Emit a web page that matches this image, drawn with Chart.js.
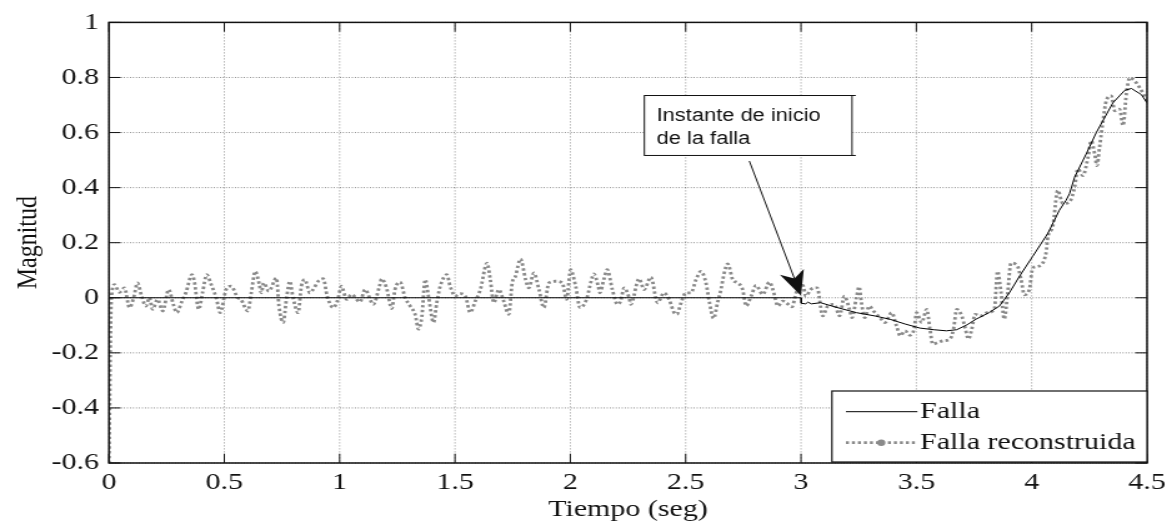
<!DOCTYPE html>
<html lang="es">
<head>
<meta charset="utf-8">
<title>Falla y falla reconstruida</title>
<script src="https://cdn.jsdelivr.net/npm/chart.js@4.4.1/dist/chart.umd.min.js"></script>
<style>
  html, body { margin: 0; padding: 0; background: #fff; overflow: hidden; }
  /* the figure is drawn at a narrower width and stretched horizontally */
  #lienzo { position: absolute; left: 0; top: 0; width: 938px; height: 529px;
            transform: scaleX(1.2495); transform-origin: 0 0; }
</style>
</head>
<body>
<div id="lienzo"><canvas id="grafico"></canvas></div>
<script>
// Señal de falla (referencia)
const tiempoFalla = [0, 3.000, 3.001, 3.020, 3.030, 3.045, 3.085, 3.150, 3.240, 3.320, 3.385, 3.450,
  3.515, 3.575, 3.630, 3.675, 3.720, 3.758, 3.815, 3.860, 3.903, 3.947, 4.004, 4.070, 4.120,
  4.149, 4.164, 4.186, 4.236, 4.280, 4.352, 4.403, 4.432, 4.475, 4.500];
const falla = [0, 0, -0.020, -0.022, -0.016, -0.022, -0.018, -0.034, -0.054, -0.066, -0.078, -0.095,
  -0.110, -0.116, -0.120, -0.116, -0.098, -0.078, -0.054, -0.030, 0.018, 0.078, 0.150, 0.234, 0.318,
  0.354, 0.378, 0.438, 0.522, 0.600, 0.708, 0.753, 0.760, 0.738, 0.708];

// Señal reconstruida
const tiempoRec = [0.000, 0.010, 0.024, 0.045, 0.067, 0.089, 0.107, 0.124, 0.140, 0.160, 0.175, 0.189,
  0.211, 0.233, 0.259, 0.279, 0.294, 0.315, 0.334, 0.360, 0.370, 0.389, 0.406, 0.424, 0.443, 0.465,
  0.482, 0.508, 0.530, 0.558, 0.572, 0.602, 0.617, 0.634, 0.652, 0.660, 0.671, 0.693, 0.726, 0.737,
  0.755, 0.770, 0.784, 0.798, 0.820, 0.834, 0.849, 0.871, 0.885, 0.907, 0.929, 0.946, 0.972, 0.990,
  1.008, 1.030, 1.052, 1.088, 1.110, 1.146, 1.172, 1.182, 1.203, 1.226, 1.240, 1.262, 1.284, 1.306,
  1.327, 1.342, 1.356, 1.371, 1.385, 1.407, 1.421, 1.436, 1.465, 1.479, 1.501, 1.523, 1.545, 1.566,
  1.588, 1.610, 1.639, 1.653, 1.668, 1.690, 1.711, 1.733, 1.748, 1.762, 1.784, 1.806, 1.820, 1.842,
  1.864, 1.885, 1.907, 1.936, 1.965, 1.984, 2.001, 2.023, 2.042, 2.070, 2.090, 2.102, 2.121, 2.128,
  2.145, 2.160, 2.182, 2.204, 2.218, 2.233, 2.255, 2.262, 2.298, 2.320, 2.349, 2.378, 2.406, 2.428,
  2.450, 2.462, 2.480, 2.501, 2.523, 2.545, 2.566, 2.588, 2.602, 2.621, 2.638, 2.653, 2.667, 2.682,
  2.704, 2.725, 2.747, 2.762, 2.784, 2.805, 2.834, 2.863, 2.878, 2.900, 2.921, 2.936, 2.961, 2.979,
  3.008, 3.021, 3.042, 3.070, 3.094, 3.116, 3.145, 3.167, 3.188, 3.210, 3.221, 3.240, 3.252, 3.262,
  3.276, 3.296, 3.314, 3.342, 3.364, 3.393, 3.414, 3.430, 3.451, 3.472, 3.490, 3.501, 3.523, 3.545,
  3.559, 3.571, 3.595, 3.617, 3.646, 3.661, 3.675, 3.697, 3.711, 3.726, 3.740, 3.755, 3.777, 3.808,
  3.838, 3.852, 3.867, 3.881, 3.896, 3.910, 3.939, 3.954, 3.968, 3.990, 4.004, 4.026, 4.062, 4.070,
  4.091, 4.113, 4.135, 4.164, 4.186, 4.200, 4.222, 4.244, 4.258, 4.273, 4.283, 4.294, 4.309, 4.323,
  4.345, 4.360, 4.381, 4.396, 4.410, 4.425, 4.447, 4.468, 4.500];
const fallaRec = [-0.600, -0.010, 0.048, 0.020, 0.036, -0.036, 0.000, 0.054, 0.010, -0.030, 0.000, -0.042,
  -0.006, -0.048, 0.030, -0.024, -0.054, -0.015, 0.020, 0.084, 0.060, -0.042, 0.020, 0.084, 0.048, 0.000,
  -0.054, 0.030, 0.042, 0.000, -0.006, -0.048, 0.018, 0.096, 0.048, 0.018, 0.054, 0.024, 0.072, -0.030,
  -0.090, 0.000, 0.060, 0.000, -0.054, 0.042, 0.066, 0.018, 0.030, 0.060, 0.069, 0.006, -0.036, -0.012,
  0.042, -0.006, 0.012, -0.015, 0.030, -0.024, 0.040, 0.069, 0.036, -0.039, 0.030, 0.057, 0.000, -0.030,
  -0.060, -0.114, -0.070, 0.066, 0.006, -0.090, -0.018, 0.042, 0.084, 0.042, 0.006, 0.015, 0.006, -0.054,
  -0.012, 0.030, 0.126, 0.066, -0.018, 0.030, -0.012, -0.060, 0.054, 0.078, 0.141, 0.066, 0.036, 0.090,
  0.030, -0.036, 0.054, 0.060, 0.054, -0.006, 0.102, 0.042, -0.036, -0.006, 0.060, 0.087, 0.042, 0.018,
  0.066, 0.102, 0.030, -0.024, -0.012, 0.036, 0.000, -0.024, 0.069, 0.030, 0.075, -0.018, 0.018, -0.006,
  -0.054, -0.060, -0.018, 0.018, 0.018, 0.066, 0.096, 0.054, -0.012, -0.075, -0.018, 0.030, 0.090, 0.123,
  0.066, 0.054, 0.030, -0.030, 0.006, 0.045, 0.012, 0.057, 0.030, -0.030, -0.012, -0.018, -0.033, 0.018,
  0.045, 0.006, 0.030, 0.036, -0.066, -0.030, -0.024, -0.066, 0.006, -0.042, -0.072, 0.000, 0.040, -0.018,
  -0.072, -0.030, -0.048, -0.072, -0.090, -0.054, -0.102, -0.138, -0.120, -0.136, -0.114, -0.054, -0.090, -0.042,
  -0.114, -0.168, -0.162, -0.156, -0.150, -0.114, -0.042, -0.066, -0.108, -0.150, -0.114, -0.060, -0.066, -0.054,
  -0.042, 0.096, 0.020, -0.078, 0.020, 0.126, 0.114, 0.066, 0.011, 0.030, 0.108, 0.114, 0.162, 0.222,
  0.258, 0.390, 0.342, 0.348, 0.402, 0.468, 0.444, 0.510, 0.570, 0.522, 0.480, 0.546, 0.642, 0.715,
  0.733, 0.679, 0.685, 0.625, 0.739, 0.799, 0.787, 0.763, 0.715];

// Marcas de los ejes
const ticksX = [0, 0.5, 1, 1.5, 2, 2.5, 3, 3.5, 4, 4.5];
const ticksY = [-0.6, -0.4, -0.2, 0, 0.2, 0.4, 0.6, 0.8, 1];

const etiquetasSerie = ['Falla', 'Falla reconstruida'];
const textoNota = ['Instante de inicio', 'de la falla'];

const gris = '#8a8a8a';
const serif = "'Liberation Serif', 'Times New Roman', serif";
const sans = "'Liberation Sans', Arial, sans-serif";
const puntos = (ts, vs) => ts.map((t, i) => ({ x: t, y: vs[i] }));

// grid, axis box, inward ticks, legend and the annotation arrow
const decoracion = {
  id: 'decoracion',
  beforeDatasetsDraw(chart) {
    const { ctx: c, chartArea: a, scales: { x, y } } = chart;
    c.save();
    c.strokeStyle = 'rgba(0,0,0,0.55)';
    c.lineWidth = 0.8;
    c.setLineDash([1, 2]);
    ticksX.forEach(v => {
      const px = x.getPixelForValue(v);
      c.beginPath(); c.moveTo(px, a.top); c.lineTo(px, a.bottom); c.stroke();
    });
    c.lineWidth = 1;
    c.setLineDash([0.8, 1.6]);
    ticksY.forEach(v => {
      const py = y.getPixelForValue(v);
      c.beginPath(); c.moveTo(a.left, py); c.lineTo(a.right, py); c.stroke();
    });
    c.restore();
  },
  afterDatasetsDraw(chart) {
    const { ctx: c, chartArea: a, scales: { x, y } } = chart;
    const ds = chart.data.datasets;
    c.save();
    c.setLineDash([]);

    // axis box
    c.strokeStyle = '#111';
    c.lineWidth = 1.5;
    c.strokeRect(a.left, a.top, a.right - a.left, a.bottom - a.top);

    // inward tick marks on all four sides
    const L = 9.3;
    c.lineWidth = 1;
    ticksX.forEach(v => {
      const px = x.getPixelForValue(v);
      c.beginPath();
      c.moveTo(px, a.bottom); c.lineTo(px, a.bottom - L);
      c.moveTo(px, a.top); c.lineTo(px, a.top + L);
      c.stroke();
    });
    ticksY.forEach(v => {
      const py = y.getPixelForValue(v);
      c.beginPath();
      c.moveTo(a.left, py); c.lineTo(a.left + L, py);
      c.moveTo(a.right, py); c.lineTo(a.right - L, py);
      c.stroke();
    });

    // legend box
    const lx0 = a.right - 252.2, ly0 = a.bottom - 72, ly1 = a.bottom - 1;
    c.fillStyle = '#fff';
    c.fillRect(lx0, ly0, a.right - lx0, ly1 - ly0);
    c.strokeStyle = '#111';
    c.lineWidth = 1.2;
    c.strokeRect(lx0, ly0, a.right - lx0, ly1 - ly0);

    const r1 = a.bottom - 51.3, r2 = a.bottom - 20.3;
    c.strokeStyle = ds[1].borderColor;
    c.lineWidth = ds[1].borderWidth;
    c.beginPath(); c.moveTo(lx0 + 11.2, r1); c.lineTo(lx0 + 68.4, r1); c.stroke();

    c.strokeStyle = ds[0].borderColor;
    c.lineWidth = ds[0].borderWidth;
    c.setLineDash(ds[0].borderDash);
    c.beginPath(); c.moveTo(lx0 + 11.2, r2); c.lineTo(lx0 + 68.4, r2); c.stroke();
    c.setLineDash([]);
    c.fillStyle = ds[0].borderColor;
    c.beginPath(); c.arc(lx0 + 39.5, r2, 3.2, 0, Math.PI * 2); c.fill();

    c.fillStyle = '#111';
    c.font = '24px ' + serif;
    c.textBaseline = 'alphabetic';
    c.textAlign = 'left';
    c.fillText(etiquetasSerie[0], lx0 + 70.5, a.bottom - 44.7);
    c.fillText(etiquetasSerie[1], lx0 + 70.5, a.bottom - 14);

    // annotation: text box and arrow to the fault onset
    const bx0 = x.getPixelForValue(2.321), bx1 = x.getPixelForValue(3.221);
    const by0 = y.getPixelForValue(0.7345), by1 = y.getPixelForValue(0.5168);
    c.fillStyle = '#fff';
    c.fillRect(bx0, by0, bx1 - bx0, by1 - by0);
    c.strokeStyle = '#111';
    c.lineWidth = 1;
    c.strokeRect(bx0, by0, bx1 - bx0, by1 - by0);
    c.beginPath();
    c.moveTo(bx1, by0); c.lineTo(bx1 + 3, by0);
    c.moveTo(bx1, by1); c.lineTo(bx1 + 3, by1);
    c.stroke();
    c.fillStyle = '#111';
    c.font = '17.5px ' + sans;
    c.fillText(textoNota[0], bx0 + 9.8, by0 + 25);
    c.fillText(textoNota[1], bx0 + 9.8, by0 + 48.3);

    const tx = x.getPixelForValue(2.776), ty = y.getPixelForValue(0.4967);
    const px = x.getPixelForValue(3.0), py = y.getPixelForValue(0) - 2;
    const dx = px - tx, dy = py - ty, len = Math.hypot(dx, dy);
    const ux = dx / len, uy = dy / len, nx = -uy, ny = ux;
    const HL = 25, HW = 10;
    c.lineWidth = 1;
    c.beginPath(); c.moveTo(tx, ty); c.lineTo(px - ux * HL * 0.7, py - uy * HL * 0.7); c.stroke();
    c.beginPath();
    c.moveTo(px, py);
    c.lineTo(px - ux * HL + nx * HW, py - uy * HL + ny * HW);
    c.lineTo(px - ux * HL * 0.72, py - uy * HL * 0.72);
    c.lineTo(px - ux * HL - nx * HW, py - uy * HL - ny * HW);
    c.closePath();
    c.fill();

    c.restore();
  }
};

new Chart(document.getElementById('grafico'), {
  type: 'line',
  data: {
    datasets: [
      {
        label: etiquetasSerie[1],
        data: puntos(tiempoRec, fallaRec),
        borderColor: gris,
        borderWidth: 2.8,
        borderDash: [2.4, 2.4],
        borderCapStyle: 'butt',
        pointRadius: 0,
        cubicInterpolationMode: 'monotone',
        fill: false,
        order: 2
      },
      {
        label: etiquetasSerie[0],
        data: puntos(tiempoFalla, falla),
        borderColor: '#000',
        borderWidth: 1,
        pointRadius: 0,
        tension: 0,
        fill: false,
        order: 1
      }
    ]
  },
  options: {
    responsive: true,
    maintainAspectRatio: false,
    animation: false,
    events: [],
    layout: { padding: { left: 0, right: 19.6, top: 17, bottom: 0 } },
    plugins: { legend: { display: false }, tooltip: { enabled: false } },
    scales: {
      x: {
        type: 'linear',
        min: 0, max: 4.5,
        afterBuildTicks: s => { s.ticks = ticksX.map(v => ({ value: v })); },
        afterFit: s => { s.height = 66; },
        grid: { display: false, drawTicks: false },
        border: { display: false },
        ticks: {
          autoSkip: false, maxRotation: 0, padding: 5,
          color: '#111',
          font: { family: serif, size: 24 },
          callback: v => String(v)
        },
        title: {
          display: true, text: 'Tiempo (seg)', color: '#111',
          font: { family: serif, size: 24 },
          padding: { top: 0, bottom: 4.6 }
        }
      },
      y: {
        type: 'linear',
        min: -0.6, max: 1,
        afterBuildTicks: s => { s.ticks = ticksY.map(v => ({ value: v })); },
        afterFit: s => { s.width = 87.2; },
        grid: { display: false, drawTicks: false },
        border: { display: false },
        ticks: {
          autoSkip: false, padding: 8,
          color: '#111',
          font: { family: serif, size: 24 },
          callback: v => String(Math.round(v * 10) / 10)
        },
        title: {
          display: true, text: 'Magnitud', color: '#111',
          font: { family: serif, size: 24 },
          padding: { top: 8, bottom: 0 }
        }
      }
    }
  },
  plugins: [decoracion]
});
</script>
</body>
</html>
